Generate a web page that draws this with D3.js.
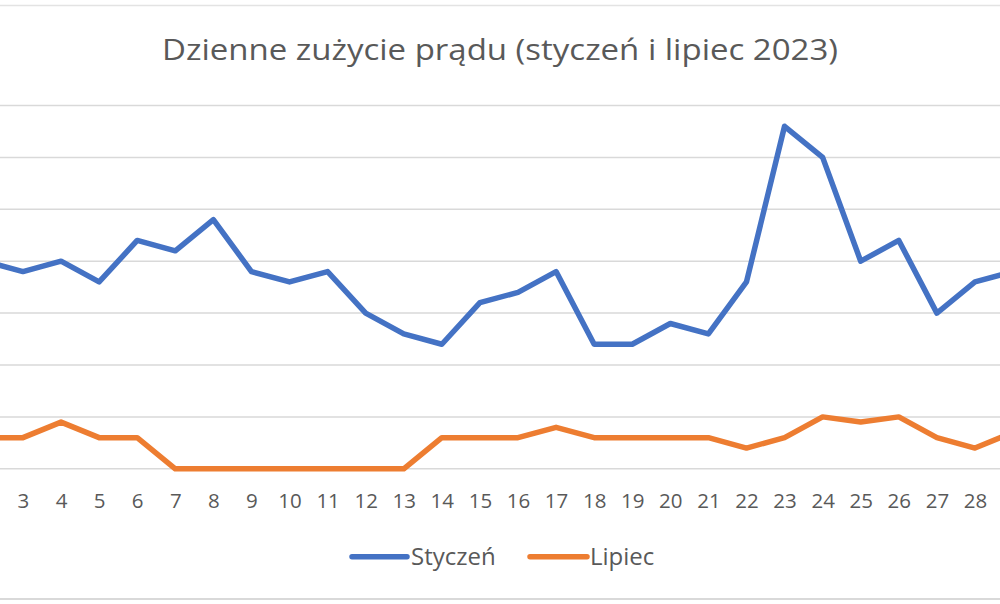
<!DOCTYPE html>
<html>
<head>
<meta charset="utf-8">
<script src="https://cdn.jsdelivr.net/npm/d3@7"></script>
<style>
  html, body { margin: 0; padding: 0; background: #fff; overflow: hidden; }
  svg { display: block; }
</style>
</head>
<body>
<svg id="chart" width="1000" height="604"></svg>
<script>
// ---- data (chart is cropped to days 2–29) ----
const title = "Dzienne zużycie prądu (styczeń i lipiec 2023)";
const allDays = d3.range(1, 32);                 // x categories 1..31
const days = d3.range(2, 30);                    // visible days 2..29
const tickDays = d3.range(3, 30);                // day labels shown in the picture
const styczen = [20, 19, 20, 18, 22, 21, 24, 19, 18, 19, 15, 13, 12, 16, 17, 19, 12, 12, 14, 13, 18, 33, 30, 20, 22, 15, 18, 19];
const lipiec  = [3, 3, 4.5, 3, 3, 0, 0, 0, 0, 0, 0, 0, 3, 3, 3, 4, 3, 3, 3, 3, 2, 3, 5, 4.5, 5, 3, 2, 3.5];
const yTicks = [0, 5, 10, 15, 20, 25, 30, 35];
const seriesNames = ["Styczeń", "Lipiec"];
const seriesColors = ["#4472C4", "#ED7D31"];

const svg = d3.select("#chart");
const W = 1000;

const x = d3.scalePoint().domain(allDays).range([-53.2, 1089.2]);
const y = d3.scaleLinear().domain([0, 35]).range([468.8, 105.5]);

// chart frame lines (top & bottom)
svg.append("line").attr("x1", 0).attr("x2", W).attr("y1", 5.5).attr("y2", 5.5)
  .attr("stroke", "#e3e3e3").attr("stroke-width", 1.5);
svg.append("line").attr("x1", 0).attr("x2", W).attr("y1", 599).attr("y2", 599)
  .attr("stroke", "#d9d9d9").attr("stroke-width", 2);

// title
svg.append("text")
  .attr("x", 500).attr("y", 59.5)
  .attr("text-anchor", "middle")
  .attr("font-family", "'Open Sans', sans-serif")
  .attr("font-size", 29)
  .attr("fill", "#595959")
  .attr("textLength", 676)
  .attr("lengthAdjust", "spacingAndGlyphs")
  .text(title);

// gridlines
svg.append("g").selectAll("line").data(yTicks).join("line")
  .attr("x1", 0).attr("x2", W)
  .attr("y1", d => y(d)).attr("y2", d => y(d))
  .attr("stroke", "#d9d9d9").attr("stroke-width", 1.5);

// x axis labels
const xAxis = d3.axisBottom(x).tickValues(tickDays).tickSize(0).tickPadding(0);
const gx = svg.append("g").call(xAxis);
gx.select(".domain").remove();
gx.selectAll("text")
  .attr("y", 507.5).attr("dy", 0)
  .attr("font-family", "'Open Sans', sans-serif")
  .attr("font-size", 20.5)
  .attr("fill", "#595959");

// lines
const line = d3.line().x((d, i) => x(days[i])).y(d => y(d)).curve(d3.curveLinear);
[styczen, lipiec].forEach((vals, k) => {
  svg.append("path")
    .datum(vals)
    .attr("d", line)
    .attr("fill", "none")
    .attr("stroke", seriesColors[k])
    .attr("stroke-width", 5.5)
    .attr("stroke-linejoin", "round")
    .attr("stroke-linecap", "round");
});

// legend
const legendItems = [
  { name: seriesNames[0], color: seriesColors[0], x1: 352, x2: 407, tx: 411 },
  { name: seriesNames[1], color: seriesColors[1], x1: 530, x2: 587, tx: 590 }
];
const lg = svg.append("g");
legendItems.forEach(it => {
  lg.append("line").attr("x1", it.x1).attr("x2", it.x2).attr("y1", 556.7).attr("y2", 556.7)
    .attr("stroke", it.color).attr("stroke-width", 5.5).attr("stroke-linecap", "round");
  lg.append("text").attr("x", it.tx).attr("y", 565)
    .attr("font-family", "'Open Sans', sans-serif")
    .attr("font-size", 24)
    .attr("fill", "#595959")
    .text(it.name);
});
</script>
</body>
</html>
